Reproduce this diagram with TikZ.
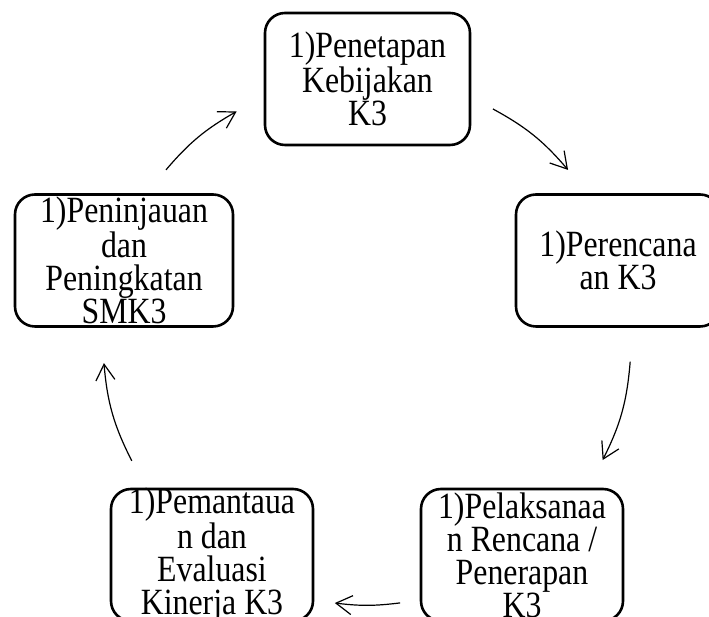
\documentclass[tikz,border=0pt]{standalone}
\usepackage{fontspec}
\setmainfont{Liberation Serif}[FakeStretch=0.86]
\usetikzlibrary{arrows.meta, positioning}

\begin{document}
\begin{tikzpicture}[x=1pt, y=1pt]

        % Setup the style for the boxes and arrows
        \tikzset{box style/.style={draw,
                                   rounded corners=20pt,
                                   line width=2.6pt,
                                   minimum width=205pt,
                                   minimum height=132pt,
                                   inner xsep=1pt,
                                   inner ysep=-8pt,
                                   align=center,
                                   font=\fontsize{37}{33}\selectfont}}
        \tikzset{cycle arrow/.style={line width=1.2pt,
                                     -{Straight Barb[length=16pt, width=19pt]}}}

        \useasboundingbox (0, 0) rectangle (709, 617);
        \clip (0, 0) rectangle (709, 617);

        % Draw the boxes
        \node[box style] at (367.5, 538) (A) {1)Penetapan\\Kebijakan\\K3};
        \node[box style, minimum width=204pt] at (618, 356.5) (B) {1)Perencana\\an K3};
        \node[box style, minimum width=202pt] at (522, 62) (C) {1)Pelaksanaa\\n Rencana /\\Penerapan\\K3};
        \node[box style, minimum width=202pt] at (212, 62) (D) {1)Pemantaua\\n dan\\Evaluasi\\Kinerja K3};
        \node[box style, minimum width=218pt] at (124, 356.5) (E) {1)Peninjauan\\dan\\Peningkatan\\SMK3};

        % Arrow ends, on a circle round the middle
        \coordinate (ctr) at (367, 276);
        \coordinate (ea) at ([shift={(139.6:264)}]ctr);
        \coordinate (ab) at ([shift={(119.6:264)}]ctr);
        \coordinate (ba) at ([shift={(61.5:264)}]ctr);
        \coordinate (bb) at ([shift={(40.4:264)}]ctr);
        \coordinate (ca) at ([shift={(-4.5:264)}]ctr);
        \coordinate (cb) at ([shift={(-26.8:264)}]ctr);
        \coordinate (da) at ([shift={(-82.8:264)}]ctr);
        \coordinate (db) at ([shift={(-97:264)}]ctr);
        \coordinate (fa) at ([shift={(207:264)}]ctr);
        \coordinate (fb) at ([shift={(184.8:264)}]ctr);

        % Connect the boxes with arrows
        \draw[cycle arrow] (ea) to[bend left=10] (ab);
        \draw[cycle arrow] (ba) to[bend left=10.5] (bb);
        \draw[cycle arrow] (ca) to[bend left=11] (cb);
        \draw[cycle arrow] (da) to[bend left=7] (db);
        \draw[cycle arrow] (fa) to[bend left=11] (fb);
    \end{tikzpicture}
\end{document}
